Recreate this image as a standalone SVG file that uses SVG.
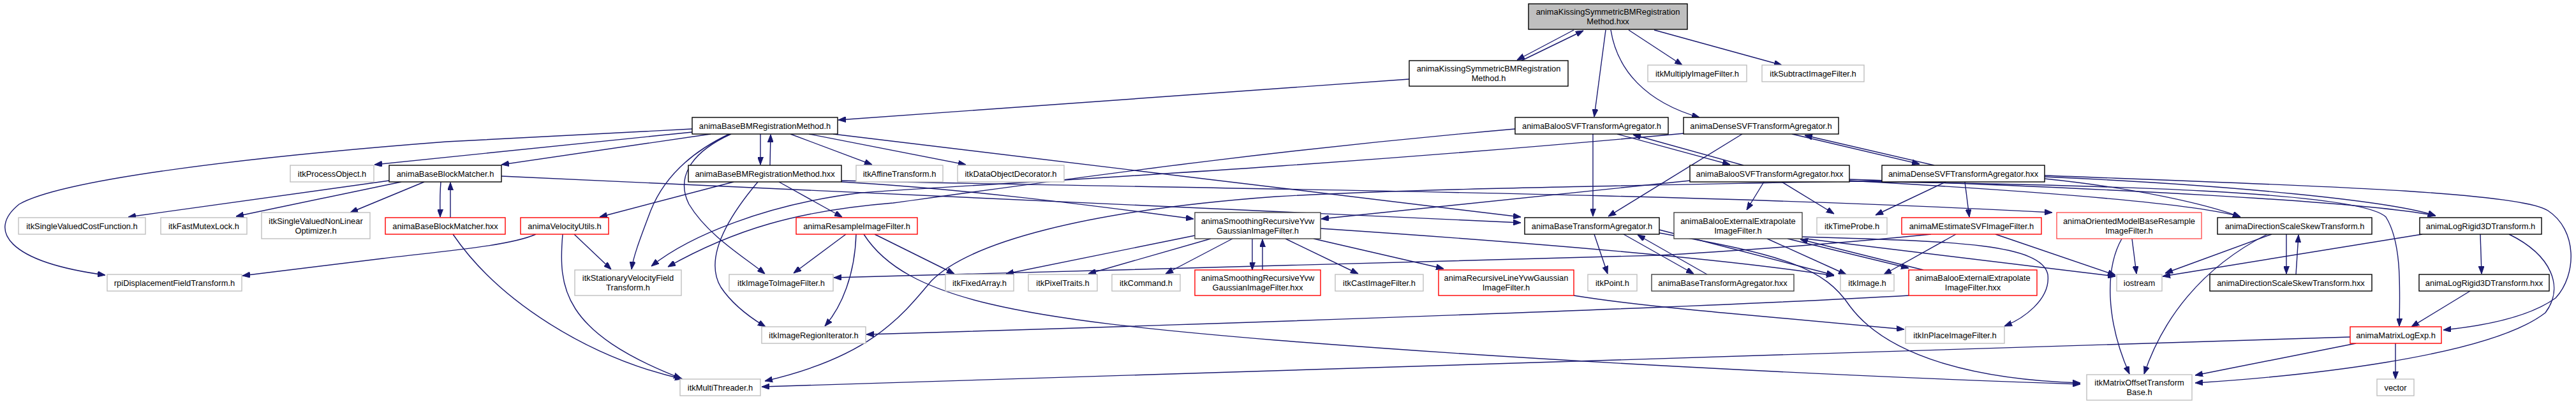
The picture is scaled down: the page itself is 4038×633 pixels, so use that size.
<svg xmlns="http://www.w3.org/2000/svg" width="4038" height="633" viewBox="0 0 4038 633">
<style>
text{font-family:"Liberation Sans",Arial,sans-serif;font-size:12.9px;fill:#000;text-anchor:middle}
.b{fill:#fff;stroke:#000;stroke-width:1.4}
.d{fill:#fff;stroke:#404040;stroke-width:1.4}
.g{fill:#fff;stroke:#bfbfbf;stroke-width:1.4}
.r{fill:#fff;stroke:#ff0000;stroke-width:1.4}
.rl{fill:#fff;stroke:#ff5050;stroke-width:1.4}
.root{fill:#bfbfbf;stroke:#000;stroke-width:1.4}
#edges path{fill:none;stroke:#191970;stroke-width:1.4;marker-end:url(#ah)}
</style>
<defs>
<marker id="ah" viewBox="0 0 12 9" refX="12" refY="4.5" markerWidth="12" markerHeight="9" markerUnits="userSpaceOnUse" orient="auto">
<path d="M0,0 L12,4.5 L0,9 z" fill="#191970" stroke="#191970" stroke-width="1"/>
</marker>
</defs>
<rect width="4038" height="633" fill="#fff"/>
<g id="edges">
<path d="M2467,47 L2378,94"/>
<path d="M2385,95 L2482,48"/>
<path d="M2517,47 L2499,183"/>
<path d="M2525,47 C2535,110 2580,160 2664,184"/>
<path d="M2553,47 L2637,102"/>
<path d="M2593,47 L2793,102"/>
<path d="M2209,124 L1314,188"/>
<path d="M1085,207 L587,258"/>
<path d="M1114,210 L786,258"/>
<path d="M1192,210 L1192,258"/>
<path d="M1207,259 L1208,211"/>
<path d="M1239,210 L1367,258"/>
<path d="M1268,210 L1514,258"/>
<path d="M1306,210 L2384,340"/>
<path d="M1085,202 L700,222 C400,245 100,280 30,320 C-20,360 10,410 165,431"/>
<path d="M1143,210 C1080,240 1040,280 1020,330 C1005,370 993,400 990,422"/>
<path d="M1146,210 C1080,240 1060,280 1080,320 C1110,370 1170,405 1199,429"/>
<path d="M610,283 L201,340"/>
<path d="M629,285 L370,339"/>
<path d="M665,285 L549,333"/>
<path d="M691,285 C689,310 690,325 690,340"/>
<path d="M706,341 C706,320 706,300 706,286"/>
<path d="M710,367 C780,470 920,560 1070,594"/>
<path d="M786,276 L2384,349"/>
<path d="M1319,285 C1500,295 1700,320 1871,343"/>
<path d="M1150,285 L940,340"/>
<path d="M1188,285 C1150,330 1100,400 1130,450 C1150,480 1180,500 1200,512"/>
<path d="M1221,285 L1320,340"/>
<path d="M840,367 C800,385 700,393 600,405 L380,432"/>
<path d="M900,367 L958,422"/>
<path d="M882,367 C875,450 880,520 1068,593"/>
<path d="M1326,367 L1244,428"/>
<path d="M1342,367 C1340,430 1320,480 1293,511"/>
<path d="M1371,367 L1496,429"/>
<path d="M1354,367 C1420,470 1600,500 2000,533 C2400,565 2900,590 3261,602"/>
<path d="M1873,369 L1577,429"/>
<path d="M1898,374 L1706,429"/>
<path d="M1932,374 L1827,429"/>
<path d="M1963,374 L1963,423"/>
<path d="M1979,423 L1979,375"/>
<path d="M2015,374 L2129,429"/>
<path d="M2059,374 L2263,421"/>
<path d="M2070,358 C2400,380 2700,405 2875,432"/>
<path d="M2649,283 L2071,343"/>
<path d="M2499,367 L2520,429"/>
<path d="M2545,367 L2655,429"/>
<path d="M2676,430 L2567,368"/>
<path d="M2497,210 L2497,339"/>
<path d="M2731,210 L2521,339"/>
<path d="M2535,210 L2712,258"/>
<path d="M2733,259 L2560,211"/>
<path d="M2809,210 L3009,257"/>
<path d="M3032,259 L2829,212"/>
<path d="M2375,202 C2000,235 1750,270 1400,318 C1250,330 1150,360 1047,418"/>
<path d="M2640,209 C2000,268 1500,290 1350,302 C1200,320 1080,370 1021,417"/>
<path d="M2765,285 L2738,329"/>
<path d="M2793,285 L2875,335"/>
<path d="M3050,285 L2940,337"/>
<path d="M3080,285 L3087,340"/>
<path d="M2802,374 L2992,420"/>
<path d="M3015,423 L2822,375"/>
<path d="M2770,374 L2894,430"/>
<path d="M3066,367 L2953,430"/>
<path d="M2825,371 C3050,378 3200,380 3210,430 C3215,470 3170,500 3142,511"/>
<path d="M2830,374 L3316,433"/>
<path d="M3128,367 L3316,431"/>
<path d="M3027,367 C2900,380 2700,395 2600,400 L1307,435"/>
<path d="M2992,463 C2700,480 2000,505 1358,524"/>
<path d="M2467,463 C2560,478 2640,484 2700,490 L2985,516"/>
<path d="M2601,365 C2800,400 2860,420 2900,480 C2960,560 3100,595 3261,600"/>
<path d="M2601,360 L2875,431"/>
<path d="M3205,275 C3600,290 3950,300 3994,330 C4040,360 4040,430 4006,467 C3960,500 3880,512 3830,517"/>
<path d="M2899,284 C3300,290 3700,300 3740,340 C3765,380 3762,450 3761,511"/>
<path d="M2899,283 C3200,300 3450,320 3512,340"/>
<path d="M3205,280 C3350,295 3460,320 3512,340"/>
<path d="M2899,281 C3300,295 3700,315 3818,338"/>
<path d="M3205,277 C3500,290 3750,315 3818,338"/>
<path d="M1319,283 C1800,295 2600,300 3217,333"/>
<path d="M2950,283 C2500,292 2200,296 2000,308 C1700,330 1520,380 1460,440 C1410,500 1360,560 1199,597"/>
<path d="M3684,528 L1194,606"/>
<path d="M3693,538 L3441,588"/>
<path d="M3755,538 L3755,594"/>
<path d="M3872,456 L3780,512"/>
<path d="M3888,367 L3890,429"/>
<path d="M3797,367 L3390,433"/>
<path d="M3933,367 C4000,400 4020,450 3990,490 C3900,560 3600,590 3441,600"/>
<path d="M3561,367 L3394,428"/>
<path d="M3554,367 C3450,420 3390,500 3361,586"/>
<path d="M3584,367 L3584,429"/>
<path d="M3599,430 L3603,368"/>
<path d="M3342,374 L3349,429"/>
<path d="M3326,374 C3300,420 3300,500 3338,586"/>
</g>
<g id="n0"><rect class="root" x="2396" y="6" width="249" height="40"/><text x="2520.5" y="23">animaKissingSymmetricBMRegistration</text><text x="2520.5" y="38">Method.hxx</text></g>
<g id="n1"><rect class="b" x="2209" y="95" width="249" height="40"/><text x="2333.5" y="112">animaKissingSymmetricBMRegistration</text><text x="2333.5" y="127">Method.h</text></g>
<g id="n2"><rect class="g" x="2583" y="102" width="155" height="26"/><text x="2660.5" y="119.5">itkMultiplyImageFilter.h</text></g>
<g id="n3"><rect class="g" x="2762" y="102" width="160" height="26"/><text x="2842" y="119.5">itkSubtractImageFilter.h</text></g>
<g id="n4"><rect class="b" x="1085" y="184" width="228" height="26"/><text x="1199" y="201.5">animaBaseBMRegistrationMethod.h</text></g>
<g id="n5"><rect class="b" x="2375" y="184" width="240" height="26"/><text x="2495" y="201.5">animaBalooSVFTransformAgregator.h</text></g>
<g id="n6"><rect class="b" x="2639" y="184" width="243" height="26"/><text x="2760.5" y="201.5">animaDenseSVFTransformAgregator.h</text></g>
<g id="n7"><rect class="g" x="455" y="259" width="131" height="26"/><text x="520.5" y="276.5">itkProcessObject.h</text></g>
<g id="n8"><rect class="b" x="610" y="259" width="176" height="26"/><text x="698" y="276.5">animaBaseBlockMatcher.h</text></g>
<g id="n9"><rect class="b" x="1079" y="259" width="240" height="26"/><text x="1199" y="276.5">animaBaseBMRegistrationMethod.hxx</text></g>
<g id="n10"><rect class="g" x="1342" y="259" width="136" height="26"/><text x="1410" y="276.5">itkAffineTransform.h</text></g>
<g id="n11"><rect class="g" x="1501" y="259" width="167" height="26"/><text x="1584.5" y="276.5">itkDataObjectDecorator.h</text></g>
<g id="n12"><rect class="b" x="2649" y="259" width="250" height="26"/><text x="2774" y="276.5">animaBalooSVFTransformAgregator.hxx</text></g>
<g id="n13"><rect class="b" x="2950" y="259" width="255" height="26"/><text x="3077.5" y="276.5">animaDenseSVFTransformAgregator.hxx</text></g>
<g id="n14"><rect class="g" x="29" y="341" width="199" height="26"/><text x="128.5" y="358.5">itkSingleValuedCostFunction.h</text></g>
<g id="n15"><rect class="g" x="252" y="341" width="135" height="26"/><text x="319.5" y="358.5">itkFastMutexLock.h</text></g>
<g id="n16"><rect class="g" x="410" y="333" width="170" height="41"/><text x="495" y="350.5">itkSingleValuedNonLinear</text><text x="495" y="365.5">Optimizer.h</text></g>
<g id="n17"><rect class="r" x="604" y="341" width="188" height="26"/><text x="698" y="358.5">animaBaseBlockMatcher.hxx</text></g>
<g id="n18"><rect class="r" x="816" y="341" width="138" height="26"/><text x="885" y="358.5">animaVelocityUtils.h</text></g>
<g id="n19"><rect class="r" x="1248" y="341" width="190" height="26"/><text x="1343" y="358.5">animaResampleImageFilter.h</text></g>
<g id="n20"><rect class="d" x="1873" y="333" width="197" height="41"/><text x="1971.5" y="350.5">animaSmoothingRecursiveYvw</text><text x="1971.5" y="365.5">GaussianImageFilter.h</text></g>
<g id="n21"><rect class="b" x="2390" y="341" width="211" height="26"/><text x="2495.5" y="358.5">animaBaseTransformAgregator.h</text></g>
<g id="n22"><rect class="d" x="2624" y="333" width="201" height="41"/><text x="2724.5" y="350.5">animaBalooExternalExtrapolate</text><text x="2724.5" y="365.5">ImageFilter.h</text></g>
<g id="n23"><rect class="g" x="2848" y="341" width="110" height="26"/><text x="2903" y="358.5">itkTimeProbe.h</text></g>
<g id="n24"><rect class="r" x="2981" y="341" width="219" height="26"/><text x="3090.5" y="358.5">animaMEstimateSVFImageFilter.h</text></g>
<g id="n25"><rect class="rl" x="3224" y="333" width="227" height="41"/><text x="3337.5" y="350.5">animaOrientedModelBaseResample</text><text x="3337.5" y="365.5">ImageFilter.h</text></g>
<g id="n26"><rect class="b" x="3476" y="341" width="242" height="26"/><text x="3597" y="358.5">animaDirectionScaleSkewTransform.h</text></g>
<g id="n27"><rect class="b" x="3793" y="341" width="191" height="26"/><text x="3888.5" y="358.5">animaLogRigid3DTransform.h</text></g>
<g id="n28"><rect class="g" x="168" y="430" width="211" height="26"/><text x="273.5" y="447.5">rpiDisplacementFieldTransform.h</text></g>
<g id="n29"><rect class="g" x="901" y="423" width="167" height="40"/><text x="984.5" y="440">itkStationaryVelocityField</text><text x="984.5" y="455">Transform.h</text></g>
<g id="n30"><rect class="g" x="1143" y="430" width="163" height="26"/><text x="1224.5" y="447.5">itkImageToImageFilter.h</text></g>
<g id="n31"><rect class="g" x="1482" y="430" width="107" height="26"/><text x="1535.5" y="447.5">itkFixedArray.h</text></g>
<g id="n32"><rect class="g" x="1612" y="430" width="108" height="26"/><text x="1666" y="447.5">itkPixelTraits.h</text></g>
<g id="n33"><rect class="g" x="1743" y="430" width="107" height="26"/><text x="1796.5" y="447.5">itkCommand.h</text></g>
<g id="n34"><rect class="r" x="1873" y="423" width="197" height="40"/><text x="1971.5" y="440">animaSmoothingRecursiveYvw</text><text x="1971.5" y="455">GaussianImageFilter.hxx</text></g>
<g id="n35"><rect class="g" x="2093" y="430" width="138" height="26"/><text x="2162" y="447.5">itkCastImageFilter.h</text></g>
<g id="n36"><rect class="r" x="2255" y="423" width="212" height="40"/><text x="2361" y="440">animaRecursiveLineYvwGaussian</text><text x="2361" y="455">ImageFilter.h</text></g>
<g id="n37"><rect class="g" x="2489" y="430" width="77" height="26"/><text x="2527.5" y="447.5">itkPoint.h</text></g>
<g id="n38"><rect class="d" x="2589" y="430" width="223" height="26"/><text x="2700.5" y="447.5">animaBaseTransformAgregator.hxx</text></g>
<g id="n39"><rect class="g" x="2885" y="430" width="84" height="26"/><text x="2927" y="447.5">itkImage.h</text></g>
<g id="n40"><rect class="r" x="2992" y="423" width="201" height="40"/><text x="3092.5" y="440">animaBalooExternalExtrapolate</text><text x="3092.5" y="455">ImageFilter.hxx</text></g>
<g id="n41"><rect class="g" x="3318" y="430" width="71" height="26"/><text x="3353.5" y="447.5">iostream</text></g>
<g id="n42"><rect class="b" x="3464" y="430" width="254" height="26"/><text x="3591" y="447.5">animaDirectionScaleSkewTransform.hxx</text></g>
<g id="n43"><rect class="b" x="3792" y="430" width="204" height="26"/><text x="3894" y="447.5">animaLogRigid3DTransform.hxx</text></g>
<g id="n44"><rect class="g" x="1194" y="512" width="163" height="26"/><text x="1275.5" y="529.5">itkImageRegionIterator.h</text></g>
<g id="n45"><rect class="g" x="2987" y="512" width="155" height="26"/><text x="3064.5" y="529.5">itkInPlaceImageFilter.h</text></g>
<g id="n46"><rect class="r" x="3684" y="512" width="143" height="26"/><text x="3755.5" y="529.5">animaMatrixLogExp.h</text></g>
<g id="n47"><rect class="g" x="1066" y="594" width="126" height="26"/><text x="1129" y="611.5">itkMultiThreader.h</text></g>
<g id="n48"><rect class="g" x="3271" y="587" width="165" height="40"/><text x="3353.5" y="604">itkMatrixOffsetTransform</text><text x="3353.5" y="619">Base.h</text></g>
<g id="n49"><rect class="g" x="3726" y="594" width="58" height="26"/><text x="3755" y="611.5">vector</text></g>
</svg>
